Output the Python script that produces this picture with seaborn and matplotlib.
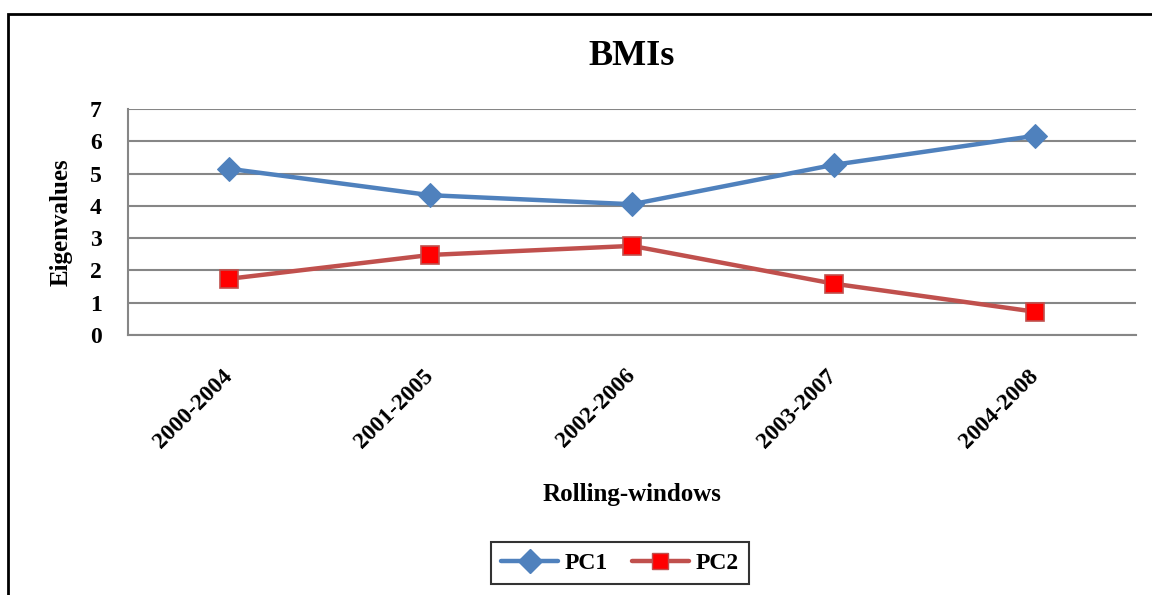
import matplotlib
matplotlib.use("Agg")
import matplotlib.pyplot as plt
from matplotlib.patches import Rectangle
from matplotlib.lines import Line2D
import seaborn as sns
import pandas as pd

windows = ["2000-2004", "2001-2005", "2002-2006", "2003-2007", "2004-2008"]
pc1 = [5.15, 4.33, 4.05, 5.27, 6.17]
pc2 = [1.74, 2.48, 2.76, 1.59, 0.72]
series_names = ["PC1", "PC2"]
y_ticks = [0, 1, 2, 3, 4, 5, 6, 7]

sns.set_style("white")
plt.rcParams["font.family"] = ["Liberation Serif", "DejaVu Serif"]
plt.rcParams["font.weight"] = "bold"
plt.rcParams["text.color"] = "black"
plt.rcParams["axes.labelcolor"] = "black"

df = pd.DataFrame({
    "window": windows * 2,
    "value": pc1 + pc2,
    "series": [series_names[0]] * len(windows) + [series_names[1]] * len(windows),
})
df["pos"] = [windows.index(w) for w in df["window"]]

fig = plt.figure(figsize=(11.52, 5.95), dpi=100)
ax = fig.add_axes([128 / 1152, 1 - 335 / 595, (1136 - 128) / 1152, (335 - 109) / 595])

blue = "#4F81BD"
red_line = "#C0504D"

sns.lineplot(data=df[df.series == "PC1"], x="pos", y="value", ax=ax, color=blue,
             linewidth=3.2, marker="D", markersize=12, markerfacecolor=blue,
             markeredgecolor=blue, legend=False)
sns.lineplot(data=df[df.series == "PC2"], x="pos", y="value", ax=ax, color=red_line,
             linewidth=3.2, marker="s", markersize=13, markerfacecolor="#FF0000",
             markeredgecolor=red_line, markeredgewidth=1.2, legend=False)

ax.set_xlim(-0.5, len(windows) - 0.5)
ax.set_ylim(0, 7)
ax.set_yticks(y_ticks)
ax.set_yticklabels([str(t) for t in y_ticks], fontsize=17, fontweight="bold")
ax.set_xticks(range(len(windows)))
ax.set_xticklabels(windows, rotation=45, ha="right", va="center", rotation_mode="anchor",
                   fontsize=17, fontweight="bold")
ax.set_xticks([i - 0.5 for i in range(len(windows) + 1)], minor=True)
ax.tick_params(axis="x", which="major", length=0, pad=27, labelcolor="black")
ax.tick_params(axis="x", which="minor", length=8, width=1.3, color="#868686", direction="out")
ax.tick_params(axis="y", length=8, width=1.3, color="#868686", direction="out", pad=11,
               labelcolor="black")

ax.grid(axis="y", color="#868686", linewidth=1.5)
ax.set_axisbelow(True)
for s in ["top", "right"]:
    ax.spines[s].set_visible(False)
for s in ["left", "bottom"]:
    ax.spines[s].set_color("#868686")
    ax.spines[s].set_linewidth(1.5)

ax.set_xlabel("Rolling-windows", fontsize=18, fontweight="bold", labelpad=22)
ax.set_ylabel("Eigenvalues", fontsize=18, fontweight="bold", labelpad=12)
ax.set_title("BMIs", fontsize=26, fontweight="bold", pad=32)

handles = [
    Line2D([0], [0], color=blue, linewidth=3.2, marker="D", markersize=12,
           markerfacecolor=blue, markeredgecolor=blue),
    Line2D([0], [0], color=red_line, linewidth=3.2, marker="s", markersize=12,
           markerfacecolor="#FF0000", markeredgecolor=red_line),
]
leg = fig.legend(handles, series_names, loc="center", bbox_to_anchor=(620 / 1152, 1 - 563 / 595),
                 ncol=2, frameon=True, fancybox=False, edgecolor="black",
                 prop={"size": 17, "weight": "bold"}, handlelength=2.4, columnspacing=1.0,
                 handletextpad=0.3, borderpad=0.45)
leg.get_frame().set_linewidth(1.5)

fig.patches.append(Rectangle((8 / 1152, -0.1), 1.2, 1 - 14 / 595 + 0.1, transform=fig.transFigure,
                             fill=False, edgecolor="black", linewidth=2, figure=fig))

fig.savefig("out.png", dpi=100)
